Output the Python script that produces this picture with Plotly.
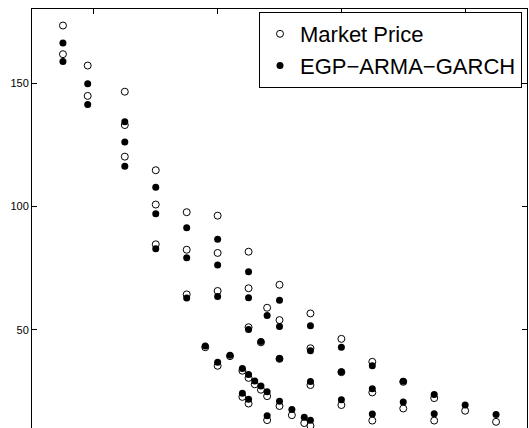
import plotly.graph_objects as go

# Strike prices (x) and option prices (y)
market_x = [975, 975, 995, 995, 1025, 1025, 1025, 1050, 1050, 1050,
            1075, 1075, 1075, 1090, 1100, 1100, 1100, 1100, 1110,
            1120, 1120, 1125, 1125, 1125, 1125, 1125, 1130, 1135, 1135,
            1140, 1140, 1140, 1150, 1150, 1150, 1150, 1160, 1170,
            1175, 1175, 1175, 1175, 1200, 1200, 1200,
            1225, 1225, 1225, 1250, 1250, 1275, 1275, 1300, 1325]
market_y = [173.3, 161.7, 157.1, 144.8, 146.5, 133.0, 120.2, 114.7, 100.8, 84.7,
            97.7, 82.5, 64.4, 43.0, 96.3, 81.2, 65.8, 35.5, 39.4,
            33.5, 22.9, 81.7, 66.9, 51.1, 30.6, 20.2, 28.0, 45.0, 25.8,
            59.0, 23.2, 13.5, 68.3, 54.0, 38.3, 19.2, 15.5, 12.3,
            56.7, 42.6, 27.7, 11.2, 46.4, 32.9, 19.6,
            37.1, 24.7, 13.3, 29.0, 18.2, 22.4, 13.3, 17.3, 12.8]
model_y = [166.2, 158.7, 149.7, 141.3, 134.3, 126.1, 116.3, 107.8, 97.1, 82.9,
           91.4, 79.3, 63.0, 43.5, 86.7, 76.3, 63.6, 36.9, 39.8,
           34.4, 24.4, 73.6, 63.1, 50.2, 32.0, 21.9, 29.3, 45.3, 27.3,
           55.9, 25.0, 15.3, 62.0, 51.4, 38.4, 21.1, 17.8, 14.7,
           51.7, 41.6, 29.1, 13.4, 43.0, 33.1, 21.7,
           35.5, 26.2, 16.0, 29.2, 20.8, 23.9, 16.1, 19.6, 15.8]

y_ticks = [50, 100, 150]
x_ticks = [1000, 1100, 1200, 1300]

font = "Liberation Sans, Arial, Helvetica, sans-serif"

fig = go.Figure()
fig.add_trace(go.Scatter(
    x=market_x, y=market_y, mode="markers", name="Market Price",
    marker=dict(symbol="circle-open", size=7, color="black", line=dict(width=1, color="black")),
))
fig.add_trace(go.Scatter(
    x=market_x, y=model_y, mode="markers", name="EGP\u2212ARMA\u2212GARCH",
    marker=dict(symbol="circle", size=7, color="black"),
))

fig.update_layout(
    width=529, height=428,
    margin=dict(l=32, r=2, t=9, b=0),
    paper_bgcolor="white", plot_bgcolor="white",
    font=dict(family=font, color="black", size=11),
    showlegend=True,
    legend=dict(
        x=(522 - 32) / 495, y=1 - (12 - 9) / 419, xanchor="right", yanchor="top",
        bgcolor="white", bordercolor="black", borderwidth=1,
        font=dict(family=font, size=22, color="black"),
        itemsizing="trace",
    ),
    xaxis=dict(
        range=[950, 1350], tickvals=x_ticks, showticklabels=False,
        side="top", showline=True, linecolor="black", linewidth=1,
        ticks="inside", ticklen=5, tickcolor="black",
        showgrid=False, zeroline=False, mirror=False,
    ),
    yaxis=dict(
        range=[10.3, 180], tickvals=y_ticks, ticktext=[str(v) for v in y_ticks],
        showline=True, linecolor="black", linewidth=1, mirror="ticks",
        ticks="inside", ticklen=5, tickcolor="black",
        showgrid=False, zeroline=False,
        tickfont=dict(family=font, size=11, color="black"),
    ),
)

fig.write_html(
    "out.html",
    config={"displayModeBar": False},
    post_script="document.body.style.margin='0';document.body.style.overflow='hidden';",
)
